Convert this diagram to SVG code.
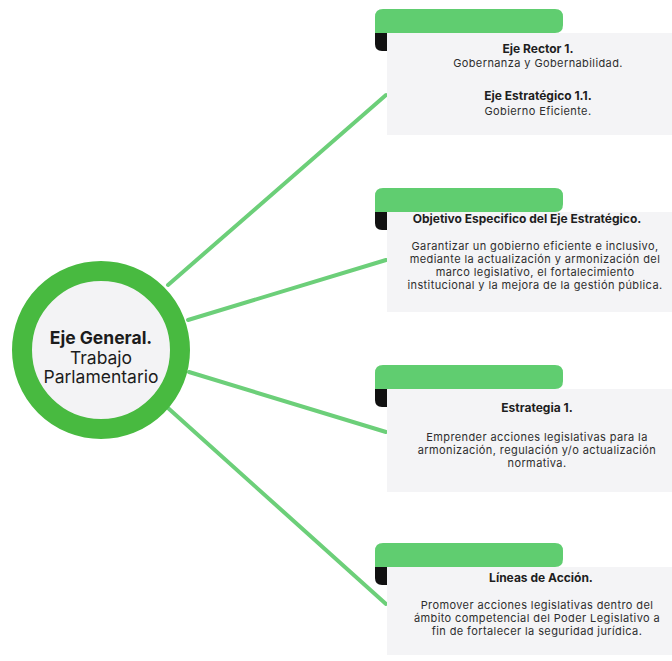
<svg xmlns="http://www.w3.org/2000/svg" xmlns:xlink="http://www.w3.org/1999/xlink" width="672" height="661" viewBox="0 0 672 661">
<style>
.t{font-family:Inter,"Liberation Sans",sans-serif;fill:#2e2e2e;text-anchor:middle}
.h{font-size:12px;font-weight:700;fill:#1e1e1e}
.b{font-size:11px;font-weight:400;letter-spacing:0.4px}
.card{fill:#f4f4f6}
.tab{fill:#60cd70}
.tick{fill:#111}
.conn line{stroke:#6ccf79;stroke-width:4;stroke-linecap:round}
.ct{font-family:Inter,"Liberation Sans",sans-serif;fill:#1c1c1c;text-anchor:middle;font-size:17.5px}
</style>
<defs>
<g id="tabshape">
<path class="tab" d="M375,24 V8 Q375,0 383,0 H555 Q563,0 563,8 V16 Q563,24 555,24 Z"/>
<path class="tick" d="M375,24 H387 V42 H382 Q375,42 375,35 Z"/>
</g>
</defs>
<rect width="672" height="661" fill="#ffffff"/>
<g id="connectors" class="conn">
<line x1="168" y1="285" x2="386" y2="95"/>
<line x1="188" y1="320" x2="386" y2="260"/>
<line x1="189" y1="372" x2="386" y2="432"/>
<line x1="168" y1="408" x2="386" y2="604"/>
</g>
<g id="eje-general">
<circle cx="101" cy="350" r="79" fill="#f3f3f5" stroke="#48ba40" stroke-width="20"/>
<text class="ct" x="101" y="344" font-weight="700">Eje General.</text>
<text class="ct" x="101" y="364">Trabajo</text>
<text class="ct" x="101" y="383">Parlamentario</text>
</g>
<g id="eje-rector">
<rect class="card" x="387" y="33" width="290" height="102"/>
<use xlink:href="#tabshape" transform="translate(0,9)"/>
<text class="t h" x="538" y="53">Eje Rector 1.</text>
<text class="t b" x="538" y="67">Gobernanza y Gobernabilidad.</text>
<text class="t h" x="538" y="100">Eje Estratégico 1.1.</text>
<text class="t b" x="538" y="115">Gobierno Eficiente.</text>
</g>
<g id="objetivo">
<rect class="card" x="387" y="212" width="290" height="100"/>
<use xlink:href="#tabshape" transform="translate(0,188)"/>
<text class="t h" x="527" y="223">Objetivo Especifico del Eje Estratégico.</text>
<text class="t b" x="535" y="250">Garantizar un gobierno eficiente e inclusivo,</text>
<text class="t b" x="535" y="263">mediante la actualización y armonización del</text>
<text class="t b" x="535" y="276">marco legislativo, el fortalecimiento</text>
<text class="t b" x="535" y="289">institucional y la mejora de la gestión pública.</text>
</g>
<g id="estrategia">
<rect class="card" x="387" y="389" width="290" height="103"/>
<use xlink:href="#tabshape" transform="translate(0,365)"/>
<text class="t h" x="537" y="412">Estrategia 1.</text>
<text class="t b" x="537" y="441">Emprender acciones legislativas para la</text>
<text class="t b" x="537" y="454">armonización, regulación y/o actualización</text>
<text class="t b" x="537" y="467">normativa.</text>
</g>
<g id="lineas">
<rect class="card" x="387" y="567" width="290" height="88"/>
<use xlink:href="#tabshape" transform="translate(0,543)"/>
<text class="t h" x="541" y="582">Líneas de Acción.</text>
<text class="t b" x="537" y="609">Promover acciones legislativas dentro del</text>
<text class="t b" x="537" y="622">ámbito competencial del Poder Legislativo a</text>
<text class="t b" x="537" y="635">fin de fortalecer la seguridad jurídica.</text>
</g>
</svg>
